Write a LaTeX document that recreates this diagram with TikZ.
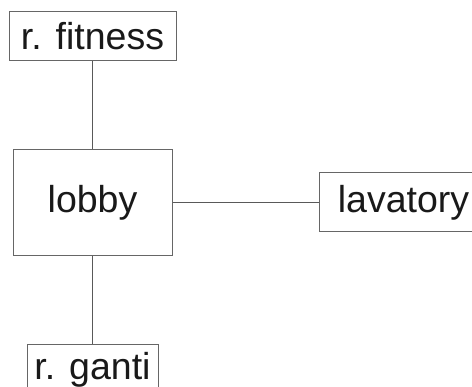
\documentclass[tikz,border=0pt]{standalone}
\usepackage{fontspec}
\setmainfont{Liberation Sans}
\begin{document}
\begin{tikzpicture}[x=1pt,y=-1pt,every node/.style={text=black!90},
  room/.style={draw=black!60,line width=1pt,fill=white,inner sep=0pt,font=\fontsize{37.5}{40}\selectfont},
  link/.style={draw=black!65,line width=0.9pt}]
\useasboundingbox (0,0) rectangle (472,387);
\clip (0,0) rectangle (472,387);
% rooms
\node[room,minimum width=167pt,minimum height=49pt]  (fitness)  at (92.5,36.5)  {r. fitness};
\node[room,minimum width=159pt,minimum height=106pt] (lobby)    at (92.5,202.5) {lobby};
\node[room,minimum width=169pt,minimum height=59pt]  (lavatory) at (403.5,202.5) {lavatory};
\node[room,minimum width=131pt,minimum height=49pt]  (ganti)    at (92.5,369.5) {r. ganti};

% links
\draw[link] (fitness) -- (lobby);
\draw[link] (lobby) -- (lavatory);
\draw[link] (lobby) -- (ganti);

\end{tikzpicture}
\end{document}
